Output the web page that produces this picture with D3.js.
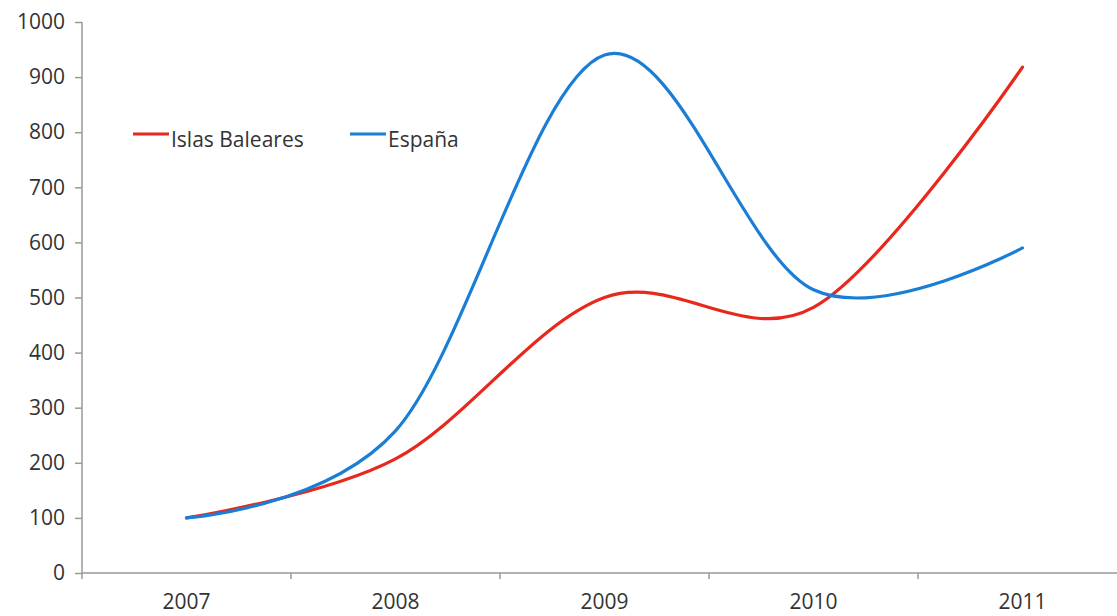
<!DOCTYPE html>
<html><head><meta charset="utf-8">
<script src="https://cdn.jsdelivr.net/npm/d3@7"></script>
<style>body{margin:0;background:#fff}svg text{font-family:"Open Sans",sans-serif;fill:#333}</style>
</head><body><svg id="c" width="1117" height="616"></svg>
<script>
const years = ["2007","2008","2009","2010","2011"];
const baleares = [100, 207, 500, 482, 918];
const espana = [100, 258, 940, 514, 590];
const yTicks = [0,100,200,300,400,500,600,700,800,900,1000];
const seriesNames = ["Islas Baleares","España"];
const colors = ["#e8281c","#1a7ed6"];

(function(){
const svg = d3.select("#c");
const mLeft = 82, mTop = 22, mBottom = 573;
const x = d3.scaleBand().domain(years).range([mLeft, mLeft + 209*5]).padding(0);
const y = d3.scaleLinear().domain([0,1000]).range([mBottom, mTop]);

const ya = svg.append("g").attr("transform",`translate(${mLeft},0)`)
  .call(d3.axisLeft(y).tickValues(yTicks).tickFormat(d3.format("d")).tickSize(7).tickPadding(10));
ya.selectAll("line, path").attr("stroke","#999").attr("stroke-width",1.5);
ya.selectAll("text").style("font-size","21px").attr("fill","#333");
ya.select(".domain").attr("d",`M0,${mTop}V${mBottom}`);

const xa = svg.append("g").attr("transform",`translate(0,${mBottom})`)
  .call(d3.axisBottom(x).tickSize(0).tickPadding(21));
xa.select(".domain").attr("stroke","#999").attr("stroke-width",1.5).attr("d",`M${mLeft},0H1117`);
xa.selectAll("text").style("font-size","21px").attr("fill","#333");
const bounds = years.map(d => x(d));
svg.append("g").selectAll("line").data(bounds).join("line")
  .attr("x1",d=>d).attr("x2",d=>d).attr("y1",mBottom).attr("y2",mBottom+6)
  .attr("stroke","#999").attr("stroke-width",1.5);

const line = d3.line().x((d,i)=>x(years[i])+x.bandwidth()/2).y(d=>y(d)).curve(d3.curveCatmullRom.alpha(0));
[baleares, espana].forEach((s,i)=>{
  svg.append("path").attr("d", line(s)).attr("fill","none").attr("stroke",colors[i])
    .attr("stroke-width",3.2).attr("stroke-linecap","round");
});

const lx = [133, 350];
seriesNames.forEach((n,i)=>{
  svg.append("line").attr("x1",lx[i]).attr("x2",lx[i]+36).attr("y1",134).attr("y2",134)
    .attr("stroke",colors[i]).attr("stroke-width",3.2);
  svg.append("text").attr("x",lx[i]+38).attr("y",147).style("font-size","21px").text(n);
});
})();
</script></body></html>
